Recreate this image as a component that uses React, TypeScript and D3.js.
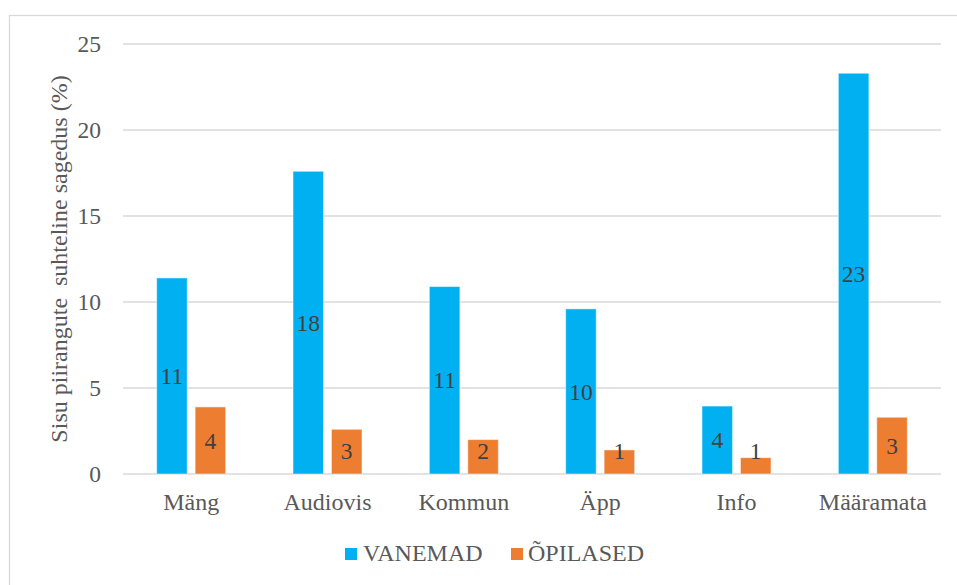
import React from "react";
import * as d3 from "d3";

const categories = ["Mäng", "Audiovis", "Kommun", "Äpp", "Info", "Määramata"];
const vanemad = [11.4, 17.6, 10.9, 9.6, 3.95, 23.3];
const opilased = [3.9, 2.6, 2.0, 1.4, 0.95, 3.3];
const seriesNames = ["VANEMAD", "ÕPILASED"];
const seriesColors = ["#00B0F0", "#ED7D31"];
const yTicks = [0, 5, 10, 15, 20, 25];
const yTitle = "Sisu piirangute\u00A0 suhteline sagedus (%)";

const W = 957;
const H = 585;
const FONT = '"Liberation Serif", "Times New Roman", Times, serif';
const TEXT = "#595959";
const ts = { fontFamily: FONT };

export default function App() {
  const x0 = d3.scaleBand<string>().domain(categories).range([123, 941]).padding(0);
  const y = d3.scaleLinear().domain([0, 25]).range([474, 44]);
  const bw = x0.bandwidth();
  const barW = bw * 0.224;
  const gap = bw * 0.058;
  const series = [vanemad, opilased];

  return (
    <svg
      width={W}
      height={H}
      style={{ position: "absolute", left: 0, top: 0, background: "#fff", fontFamily: FONT }}
    >
      <rect x={0} y={0} width={W} height={H} fill="#fff" />
      <rect x={9.5} y={15.5} width={W + 20} height={H + 20} fill="none" stroke="#d9d9d9" strokeWidth={1.3} />
      {yTicks.map((t) => (
        <g key={t}>
          <line x1={123} x2={941} y1={y(t)} y2={y(t)} stroke="#d9d9d9" strokeWidth={1.3} />
          <text x={101} y={y(t)} dy="0.35em" textAnchor="end" fontSize={23.5} fill={TEXT} style={ts}>
            {t}
          </text>
        </g>
      ))}
      <text
        transform={`translate(67, ${(y(0) + y(25)) / 2}) rotate(-90)`}
        textAnchor="middle"
        fontSize={24}
        fill={TEXT}
        style={ts}
      >
        {yTitle}
      </text>
      {categories.map((c, i) => {
        const cx = (x0(c) as number) + bw / 2;
        return (
          <g key={c}>
            {series.map((s, si) => {
              const bx = si === 0 ? cx - gap / 2 - barW : cx + gap / 2;
              const top = y(s[i]);
              const bottom = y(0);
              const labelY = Math.min((top + bottom) / 2, bottom - 23);
              return (
                <g key={si}>
                  <rect
                    x={bx}
                    y={top}
                    width={barW}
                    height={bottom - top}
                    fill={seriesColors[si]}
                    stroke="#ffffff"
                    strokeOpacity={0.5}
                    strokeWidth={1}
                  />
                  <text
                    x={bx + barW / 2}
                    y={labelY}
                    dy="0.35em"
                    textAnchor="middle"
                    fontSize={23.5}
                    fill="#404040"
                    style={ts}
                  >
                    {Math.round(s[i])}
                  </text>
                </g>
              );
            })}
            <text x={cx} y={510} textAnchor="middle" fontSize={24} fill={TEXT} style={ts}>
              {c}
            </text>
          </g>
        );
      })}
      <g>
        <rect x={345} y={548} width={12} height={12} fill={seriesColors[0]} />
        <text x={363} y={561} fontSize={24} fill={TEXT} style={ts}>
          {seriesNames[0]}
        </text>
        <rect x={511} y={548} width={12} height={12} fill={seriesColors[1]} />
        <text x={528} y={561} fontSize={24} fill={TEXT} style={ts}>
          {seriesNames[1]}
        </text>
      </g>
    </svg>
  );
}
